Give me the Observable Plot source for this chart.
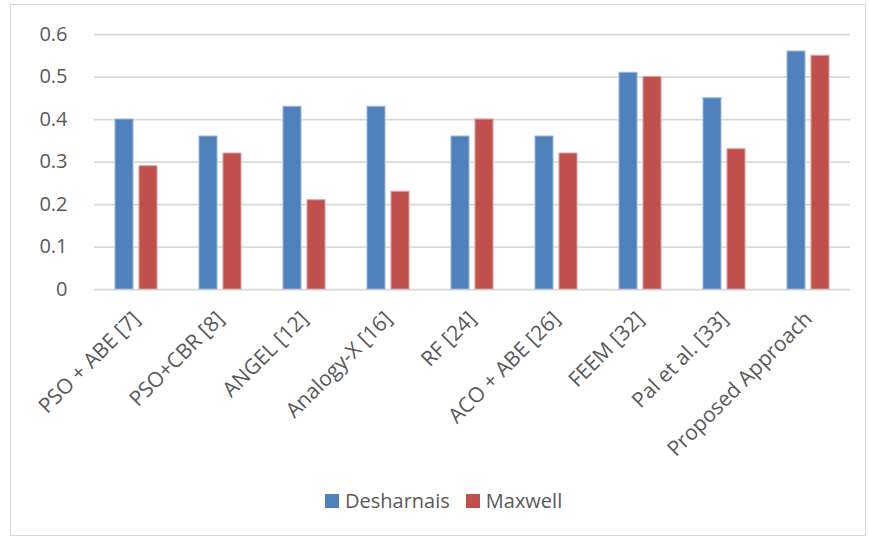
<!DOCTYPE html>
<html>
<head>
<meta charset="utf-8">
<script src="https://cdn.jsdelivr.net/npm/d3@7"></script>
<script src="https://cdn.jsdelivr.net/npm/@observablehq/plot@0.6"></script>
<style>
  html, body { margin: 0; padding: 0; background: #fff; }
  body { width: 869px; height: 539px; position: relative; overflow: hidden; font-family: "Open Sans", sans-serif; }
  #frame { position: absolute; left: 10px; top: 4px; width: 856px; height: 532px; border: 1.5px solid #d9d9d9; box-sizing: border-box; }
  #chart { position: absolute; left: 0; top: 0; }
  #chart svg text { font-size: 20px; fill: #595959; }
  #chart [aria-label^="fx-axis"] text { font-size: 21px; }
  #legend { position: absolute; left: 325px; top: 487px; display: flex; align-items: center; gap: 0; font-size: 20px; color: #595959; white-space: nowrap; }
  .key { display: inline-flex; align-items: center; margin-right: 16px; }
  .sw { width: 14px; height: 14px; display: inline-block; margin-right: 6px; }
</style>
</head>
<body>
<div id="frame"></div>
<div id="chart"></div>
<div id="legend"></div>
<script>
// Methods compared
const methods = ["PSO + ABE [7]", "PSO+CBR [8]", "ANGEL [12]", "Analogy-X [16]", "RF [24]",
                 "ACO + ABE [26]", "FEEM [32]", "Pal et al. [33]", "Proposed Approach"];
// Dataset series
const seriesNames = ["Desharnais", "Maxwell"];
const seriesColors = ["#4F81BD", "#C0504D"];
const seriesEdges = ["#9DB7D9", "#DC9F9D"];
const desharnais = [0.40, 0.36, 0.43, 0.43, 0.36, 0.36, 0.51, 0.45, 0.56];
const maxwell    = [0.29, 0.32, 0.21, 0.23, 0.40, 0.32, 0.50, 0.33, 0.55];
const yTicks = [0, 0.1, 0.2, 0.3, 0.4, 0.5, 0.6];

const rows = methods.flatMap((m, i) => [
  {method: m, series: seriesNames[0], value: desharnais[i]},
  {method: m, series: seriesNames[1], value: maxwell[i]}
]);

const chart = Plot.plot({
  width: 869,
  height: 470,
  marginLeft: 90,
  marginRight: 16,
  marginTop: 34,
  marginBottom: 181,
  style: {fontFamily: "'Open Sans', sans-serif", fontSize: "20px", color: "#595959", background: "transparent"},
  fx: {domain: methods, padding: 0, axis: "bottom", tickRotate: -45, tickSize: 0, tickPadding: 26, label: null},
  x: {domain: seriesNames, paddingInner: 0.24, paddingOuter: 0.816, axis: null},
  y: {domain: [0, 0.6], ticks: yTicks, tickFormat: d => String(d), tickSize: 0, tickPadding: 27, label: null},
  color: {domain: seriesNames, range: seriesColors},
  facet: {data: rows, x: "method"},
  marks: [
    Plot.ruleY(yTicks, {stroke: "#d9d9d9", strokeWidth: 1.75}),
    Plot.barY(rows, {x: "series", y: "value", fill: "series", inset: 0,
      stroke: d => seriesEdges[seriesNames.indexOf(d.series)], strokeWidth: 1})
  ]
});
document.getElementById("chart").appendChild(chart);

const legend = document.getElementById("legend");
seriesNames.forEach((s, i) => {
  const k = document.createElement("span");
  k.className = "key";
  k.innerHTML = `<span class="sw" style="background:${seriesColors[i]}"></span>${s}`;
  legend.appendChild(k);
});
</script>
</body>
</html>
